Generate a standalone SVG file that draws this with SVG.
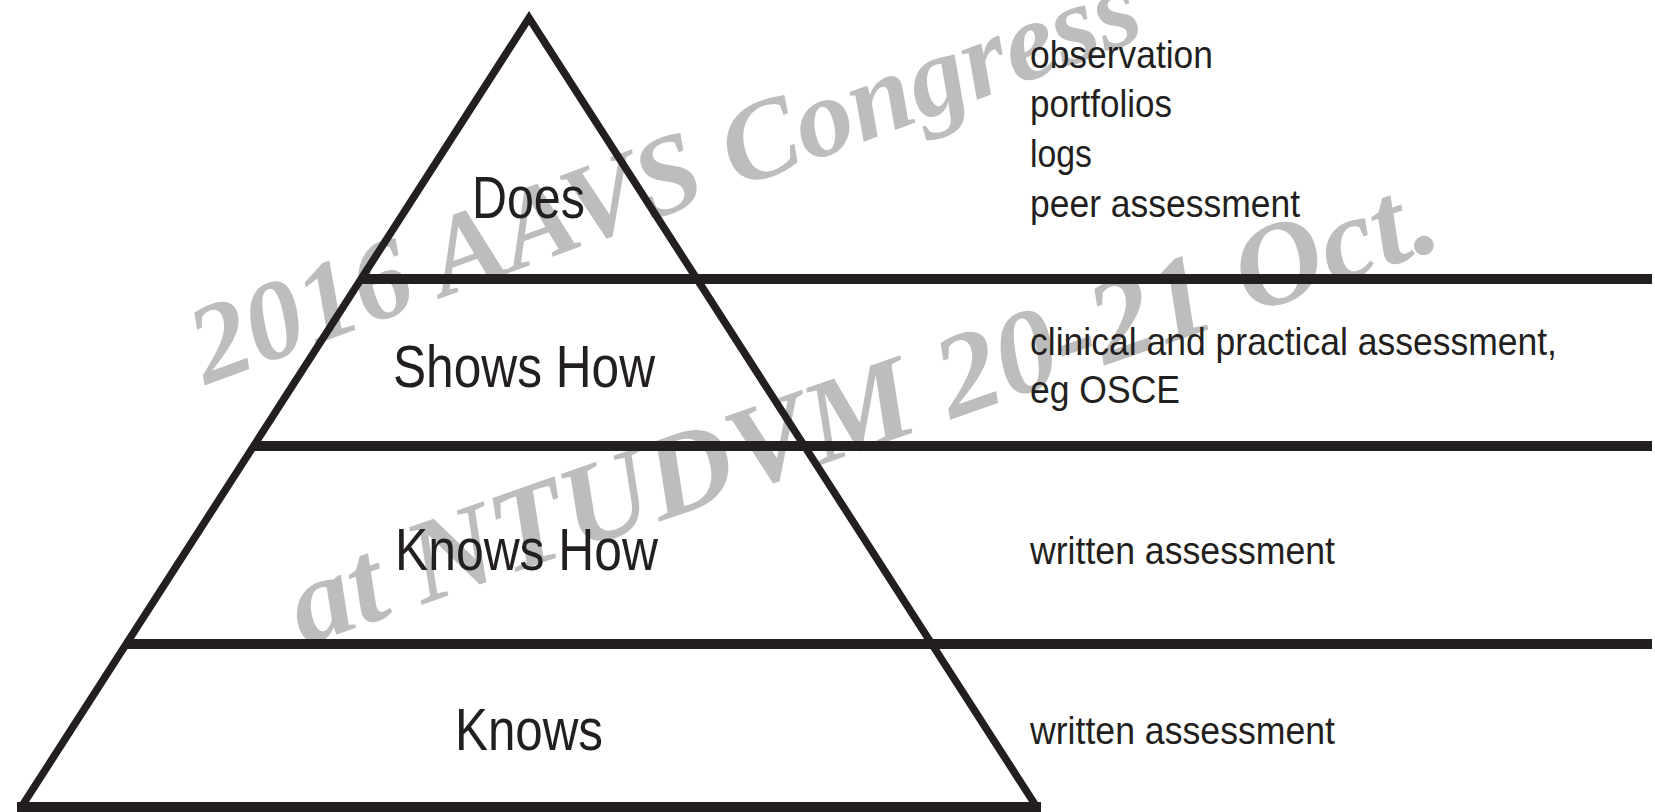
<svg xmlns="http://www.w3.org/2000/svg" width="1655" height="812" viewBox="0 0 1655 812">
<style>
.wm{font-family:"Liberation Serif","Times New Roman",serif;font-weight:bold;font-style:italic;fill:#bdbdbd}
.edge{fill:none;stroke:#231f20;stroke-width:7.5;stroke-linejoin:miter;stroke-miterlimit:10}
.div{stroke:#231f20;stroke-width:10;stroke-linecap:butt}
.lvl{font-family:"Liberation Sans",Arial,sans-serif;font-size:60px;fill:#231f20;text-anchor:middle}
.note{font-family:"Liberation Sans",Arial,sans-serif;font-size:39px;fill:#231f20}
</style>
<rect width="1655" height="812" fill="#ffffff"/>
<g id="watermark">
<text class="wm" font-size="112" transform="translate(206,385) rotate(-20.3)" textLength="1004" lengthAdjust="spacingAndGlyphs">2016 AAVS Congress</text>
<text class="wm" font-size="118" transform="translate(304,646) rotate(-19.3)" textLength="1209" lengthAdjust="spacingAndGlyphs">at NTUDVM 20-21 Oct.</text>
</g>
<g id="connectors">
<line class="div" x1="361" y1="279" x2="1652" y2="279"/>
<line class="div" x1="253.6" y1="446" x2="1652" y2="446"/>
<line class="div" x1="126.2" y1="644" x2="1652" y2="644"/>
<line class="div" x1="17" y1="807" x2="1041" y2="807"/>
</g>
<g id="pyramid">
<polyline class="edge" points="22,806 529,18 1036,806"/>
</g>
<g id="does">
<text class="lvl" x="528.5" y="218" textLength="113" lengthAdjust="spacingAndGlyphs">Does</text>
<text class="note" x="1030" y="68" textLength="183" lengthAdjust="spacingAndGlyphs">observation</text>
<text class="note" x="1030" y="117" textLength="142" lengthAdjust="spacingAndGlyphs">portfolios</text>
<text class="note" x="1030" y="167" textLength="62" lengthAdjust="spacingAndGlyphs">logs</text>
<text class="note" x="1030" y="217" textLength="270" lengthAdjust="spacingAndGlyphs">peer assessment</text>
</g>
<g id="shows-how">
<text class="lvl" x="524" y="387" textLength="262" lengthAdjust="spacingAndGlyphs">Shows How</text>
<text class="note" x="1030" y="355" textLength="527" lengthAdjust="spacingAndGlyphs">clinical and practical assessment,</text>
<text class="note" x="1030" y="403" textLength="150" lengthAdjust="spacingAndGlyphs">eg OSCE</text>
</g>
<g id="knows-how">
<text class="lvl" x="526.5" y="570" textLength="263" lengthAdjust="spacingAndGlyphs">Knows How</text>
<text class="note" x="1030" y="564" textLength="305" lengthAdjust="spacingAndGlyphs">written assessment</text>
</g>
<g id="knows">
<text class="lvl" x="529" y="750" textLength="148" lengthAdjust="spacingAndGlyphs">Knows</text>
<text class="note" x="1030" y="744" textLength="305" lengthAdjust="spacingAndGlyphs">written assessment</text>
</g>
</svg>
